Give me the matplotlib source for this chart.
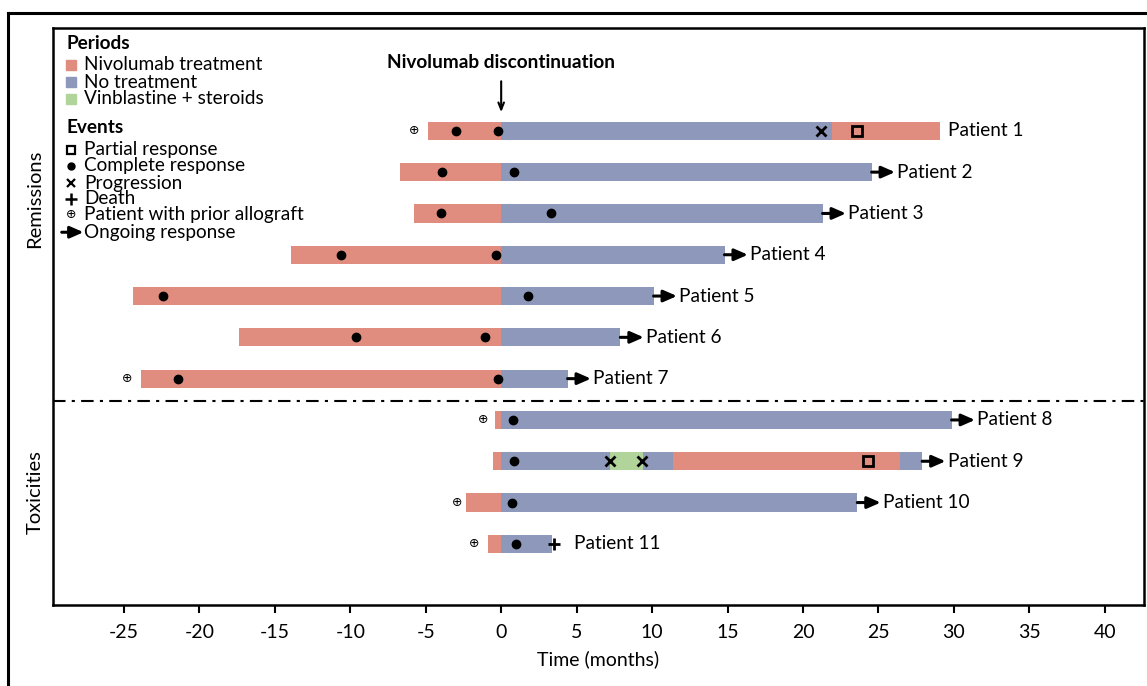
import matplotlib
matplotlib.use("Agg")
import matplotlib.pyplot as plt
from matplotlib import font_manager
from matplotlib.lines import Line2D
from matplotlib.patches import Rectangle

# data (months relative to nivolumab discontinuation)
patients = ["Patient %d" % i for i in range(1, 12)]
segments = [
    [(-4.87, 0, "nivo"), (0, 21.9, "none"), (21.9, 29.05, "nivo")],
    [(-6.7, 0, "nivo"), (0, 24.55, "none")],
    [(-5.8, 0, "nivo"), (0, 21.3, "none")],
    [(-13.9, 0, "nivo"), (0, 14.8, "none")],
    [(-24.4, 0, "nivo"), (0, 10.1, "none")],
    [(-17.4, 0, "nivo"), (0, 7.9, "none")],
    [(-23.9, 0, "nivo"), (0, 4.4, "none")],
    [(-0.42, 0, "nivo"), (0, 29.85, "none")],
    [(-0.55, 0, "nivo"), (0, 7.2, "none"), (7.2, 9.4, "vinb"),
     (9.4, 11.4, "none"), (11.4, 26.4, "nivo"), (26.4, 27.9, "none")],
    [(-2.3, 0, "nivo"), (0, 23.6, "none")],
    [(-0.9, 0, "nivo"), (0, 3.35, "none")],
]
complete_resp = [[-3.0, -0.2], [-3.9, 0.85], [-4.0, 3.3], [-10.6, -0.35],
                 [-22.4, 1.8], [-9.6, -1.1], [-21.4, -0.2], [0.77], [0.85],
                 [0.7], [1.0]]
partial_resp = [[23.55], [], [], [], [], [], [], [], [24.3], [], []]
progression = [[21.2], [], [], [], [], [], [], [], [7.2, 9.35], [], []]
death = [[], [], [], [], [], [], [], [], [], [], [3.5]]
allograft = [-5.8, None, None, None, None, None, -24.8, -1.2, None, -2.9, -1.8]
ongoing = [False, True, True, True, True, True, True, True, True, True, False]

colors = {"nivo": "#E08C7E", "none": "#8E98BB", "vinb": "#B0D49A"}

names = {f.name for f in font_manager.fontManager.ttflist}
main_font = "Lato" if "Lato" in names else "DejaVu Sans"
narrow_font = "Liberation Sans Narrow" if "Liberation Sans Narrow" in names else main_font
plt.rcParams["font.family"] = [main_font, "DejaVu Sans"]
plt.rcParams["axes.unicode_minus"] = False

fs = 13.7

fig = plt.figure(figsize=(11.47, 6.86), dpi=100)
ax = fig.add_axes([0.0462, 0.1181, 0.9512, 0.8411])

bar_h = 0.44
arrow_style = "-|>,head_length=0.8,head_width=0.35"
for i, segs in enumerate(segments):
    for start, end, kind in segs:
        ax.barh(i, end - start, left=start, height=bar_h, color=colors[kind],
                edgecolor="none", zorder=2)
    end_x = segs[-1][1]
    if ongoing[i]:
        ax.annotate("", xy=(end_x + 1.55, i), xytext=(end_x, i),
                    arrowprops=dict(arrowstyle=arrow_style, lw=2.2, color="black",
                                    shrinkA=0, shrinkB=0),
                    zorder=4)
        ax.text(end_x + 1.7, i, patients[i], va="center", ha="left", fontsize=fs)
    else:
        off = 1.5 if death[i] else 0.55
        ax.text(end_x + off, i, patients[i], va="center", ha="left", fontsize=fs)
    for x in complete_resp[i]:
        ax.plot(x, i, "o", color="black", ms=6, zorder=5)
    for x in partial_resp[i]:
        ax.plot(x, i, "s", mfc="none", mec="black", mew=2, ms=7, zorder=5)
    for x in progression[i]:
        ax.plot(x, i, "x", color="black", mew=2, ms=7, zorder=5)
    for x in death[i]:
        ax.plot(x, i, "+", color="black", mew=2, ms=9, zorder=5)
    if allograft[i] is not None:
        ax.text(allograft[i], i, "\u2295", ha="center", va="center", fontsize=9,
                family="DejaVu Sans")

ax.axhline(6.55, color="black", lw=1.5, ls=(0, (6, 3, 1.5, 3)), zorder=1)

ax.set_xlim(-29.7, 42.6)
ax.set_ylim(11.48, -2.49)
ax.set_yticks([])
ax.set_xticks(range(-25, 45, 5))
ax.tick_params(axis="x", direction="out", length=6, width=1.5, pad=8)
for lab in ax.get_xticklabels():
    lab.set_fontfamily(narrow_font)
    lab.set_fontsize(14)
ax.set_xlabel("Time (months)", fontsize=14, family=narrow_font, labelpad=6)
for s in ax.spines.values():
    s.set_linewidth(1.8)

# nivolumab discontinuation marker
ax.text(0, -1.65, "Nivolumab discontinuation", ha="center", va="center",
        fontsize=fs, fontweight="bold")
ax.annotate("", xy=(0, -0.45), xytext=(0, -1.2),
            arrowprops=dict(arrowstyle="->,head_length=0.5,head_width=0.2",
                            lw=1.5, color="black", shrinkA=0, shrinkB=0))

# legend built by hand
tx = ax.transAxes
lx, tx0 = 0.0165, 0.0284
ax.text(0.0128, 0.9723, "Periods", transform=tx, fontsize=fs, fontweight="bold",
        va="center")
for yy, lab, key in [(0.936, "Nivolumab treatment", "nivo"),
                     (0.906, "No treatment", "none"),
                     (0.877, "Vinblastine + steroids", "vinb")]:
    ax.add_patch(Rectangle((lx - 0.0045, yy - 0.0085), 0.009, 0.017,
                           transform=tx, color=colors[key], clip_on=False))
    ax.text(tx0, yy, lab, transform=tx, fontsize=fs, va="center")
ax.text(0.0128, 0.827, "Events", transform=tx, fontsize=fs, fontweight="bold",
        va="center")
ev = [(0.789, "Partial response"), (0.761, "Complete response"),
      (0.731, "Progression"), (0.704, "Death"),
      (0.676, "Patient with prior allograft"), (0.646, "Ongoing response")]
for yy, lab in ev:
    ax.text(tx0, yy, lab, transform=tx, fontsize=fs, va="center")
ax.plot(lx, 0.789, "s", mfc="none", mec="black", mew=1.6, ms=6, transform=tx)
ax.plot(lx, 0.761, "o", color="black", ms=5, transform=tx)
ax.plot(lx, 0.731, "x", color="black", mew=1.6, ms=6, transform=tx)
ax.plot(lx, 0.704, "+", color="black", mew=1.8, ms=8, transform=tx)
ax.text(lx, 0.676, "\u2295", transform=tx, ha="center", va="center", fontsize=9,
        family="DejaVu Sans")
ax.annotate("", xy=(0.028, 0.646), xytext=(0.008, 0.646), xycoords=tx,
            arrowprops=dict(arrowstyle=arrow_style, lw=2.2, color="black",
                            shrinkA=0, shrinkB=0))

# section labels
fig.text(0.0305, 1 - 199 / 686, "Remissions", rotation=90, ha="center",
         va="center", fontsize=14.5)
fig.text(0.0305, 1 - 492 / 686, "Toxicities", rotation=90, ha="center",
         va="center", fontsize=14.5)

# outer frame
fig.add_artist(Line2D([0.007, 0.007], [0, 0.981], color="black", lw=2.2))
fig.add_artist(Line2D([0.007, 1], [0.981, 0.981], color="black", lw=2.2))

fig.savefig("out.png", dpi=100)
